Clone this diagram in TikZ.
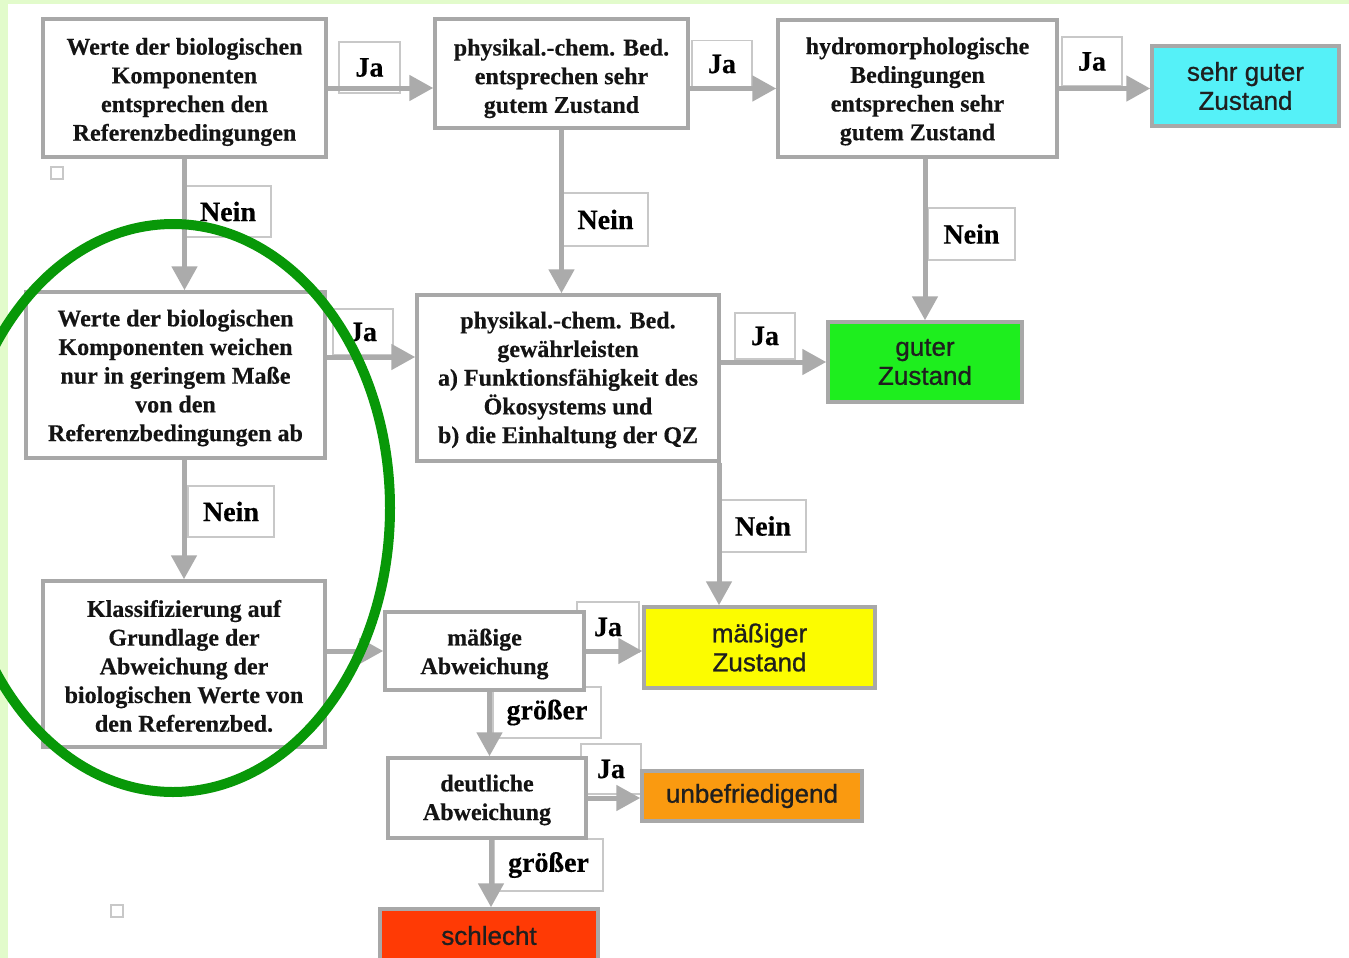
\documentclass[tikz,border=0pt]{standalone}
\usepackage{fontspec}
\setmainfont{Liberation Serif}[BoldFeatures={FakeBold=0.35}]
\newfontfamily\arialf{Liberation Sans}[FakeBold=0.9]
\usetikzlibrary{arrows.meta}
\definecolor{bgGreen}{HTML}{E2FBCB}
\definecolor{boxGray}{HTML}{A8A8A8}
\definecolor{lblGray}{HTML}{C8C8C8}
\definecolor{arrGray}{HTML}{ABABAB}
\definecolor{ringGreen}{RGB}{8,152,8}
\definecolor{cyanBox}{HTML}{55F1F8}
\definecolor{greenBox}{HTML}{1EEE1E}
\definecolor{yellowBox}{HTML}{FCFC00}
\definecolor{orangeBox}{HTML}{FA9A10}
\definecolor{redBox}{HTML}{FF3A05}
\begin{document}
\begin{tikzpicture}[x=1pt,y=-1pt,
  box/.style={draw=boxGray, line width=3.5pt, fill=white, inner sep=0pt},
  btxt/.style={inner sep=0pt, align=center,
    font=\fontsize{24}{28.7}\selectfont\bfseries, text=black!92},
  cbox/.style={draw=boxGray, line width=3.5pt, inner sep=0pt, align=center,
    font=\arialf\fontsize{26}{29}\selectfont, text=black!88},
  lbl/.style={draw=lblGray, line width=1.5pt, fill=white, inner sep=0pt,
    font=\fontsize{28}{30}\selectfont\bfseries, text=black},
  arr/.style={draw=arrGray, line width=5pt, -{Triangle[length=24pt,width=25pt]}},
  sq/.style={draw=lblGray, line width=1.5pt, minimum size=12pt, inner sep=0pt}
]
\useasboundingbox (0,0) rectangle (1349,958);
\clip (0,0) rectangle (1349,958);
\fill[bgGreen] (0,0) rectangle (1349,958);
\fill[white] (8,4) rectangle (1349,958);

% labels
\node[lbl, minimum width=61pt, minimum height=51pt] (l1) at (369.5,67.5) {Ja};
\node[lbl, minimum width=60pt, minimum height=47pt] (l2) at (722,64) {Ja};
\node[lbl, minimum width=60pt, minimum height=49pt] (l3) at (1092,61.5) {Ja};
\node[lbl, minimum width=86pt, minimum height=51pt] (l4) at (228,211.5) {Nein};
\node[lbl, minimum width=85pt, minimum height=53pt] (l5) at (605.5,219.5) {Nein};
\node[lbl, minimum width=87pt, minimum height=52pt] (l6) at (971.5,234) {Nein};
\node[lbl, minimum width=60pt, minimum height=46pt] (l7) at (363,332) {Ja};
\node[lbl, minimum width=60pt, minimum height=46pt] (l8) at (765,336) {Ja};
\node[lbl, minimum width=86pt, minimum height=52pt] (l9) at (763,526) {Nein};
\node[lbl, minimum width=86pt, minimum height=51pt] (l10) at (231,511.5) {Nein};
\node[lbl, minimum width=62pt, minimum height=50pt] (l11) at (608,627) {Ja};
\node[lbl, minimum width=108pt, minimum height=51pt] (l12) at (547,712.5) {größer};
\node[lbl, minimum width=60pt, minimum height=50pt] (l13) at (611,769) {Ja};
\node[lbl, minimum width=109pt, minimum height=52pt] (l14) at (548.5,865) {größer};

% boxes
\node[box, minimum width=283pt, minimum height=138pt] (A) at (184.5,88) {};
\node[btxt] (At) at ([yshift=-4pt]A.center)
  {Werte der biologischen\\Komponenten\\entsprechen den\\Referenzbedingungen};
\node[box, minimum width=253pt, minimum height=109pt] (B) at (561.5,73.5) {};
\node[btxt] (Bt) at ([yshift=-5pt]B.center)
  {physikal.-chem. Bed.\\entsprechen sehr\\gutem Zustand};
\node[box, minimum width=279pt, minimum height=137pt] (C) at (917.5,88.5) {};
\node[btxt] (Ct) at ([yshift=-3pt]C.center)
  {hydromorphologische\\Bedingungen\\entsprechen sehr\\gutem Zustand};
\node[cbox, fill=cyanBox, minimum width=187pt, minimum height=80pt] (cy) at (1245.5,86)
  {sehr guter\\Zustand};
\node[box, minimum width=299pt, minimum height=166pt] (D) at (175.5,375) {};
\node[btxt] (Dt) at ([yshift=-3pt]D.center)
  {Werte der biologischen\\Komponenten weichen\\nur in geringem Maße\\von den\\Referenzbedingungen ab};
\node[box, minimum width=302pt, minimum height=166pt] (E) at (568,378) {};
\node[btxt] (Et) at ([yshift=-2pt]E.center)
  {physikal.-chem. Bed.\\gewährleisten\\a) Funktionsfähigkeit des\\Ökosystems und\\b) die Einhaltung der QZ};
\node[cbox, fill=greenBox, minimum width=194pt, minimum height=80pt] (gz) at (925,362)
  {guter\\Zustand};
\node[cbox, fill=yellowBox, minimum width=231pt, minimum height=81pt] (mz) at (759.5,647.5)
  {mäßiger\\Zustand};
\node[box, minimum width=282pt, minimum height=166pt] (F) at (184,664) {};
\node[btxt] (Ft) at ([yshift=-2pt]F.center)
  {Klassifizierung auf\\Grundlage der\\Abweichung der\\biologischen Werte von\\den Referenzbed.};
\node[box, minimum width=199pt, minimum height=78pt] (G) at (484.5,651) {};
\node[btxt] (Gt) at ([yshift=-3pt]G.center) {mäßige\\Abweichung};
\node[box, minimum width=198pt, minimum height=80pt] (H) at (487,798) {};
\node[btxt] (Ht) at ([yshift=-2pt]H.center) {deutliche\\Abweichung};
\node[cbox, fill=orangeBox, minimum width=220pt, minimum height=50pt] (ub) at (752,796)
  {unbefriedigend};
\node[cbox, fill=redBox, minimum width=218pt, minimum height=53pt] (sl) at (489,935.5)
  {schlecht};

\node[sq] (s1) at (57,173) {};
\node[sq] (s2) at (117,911) {};

% arrows
\draw[arr] (A.east) -- (A.east -| B.west);
\draw[arr] (C.west -| B.east) -- (C.west);
\draw[arr] (C.east) -- (C.east -| cy.west);
\draw[arr] (A.south) -- (A.south |- D.north);
\draw[arr] (B.south) -- (B.south |- E.north);
\draw[arr] (gz.north |- C.south) -- (gz.north);
\coordinate (d1) at ([yshift=18pt]D.east);
\draw[arr] (d1) -- (d1 -| E.west);
\draw[arr] (gz.west -| E.east) -- (gz.west);
\coordinate (e1) at ([xshift=-1.75pt]E.south east);
\draw[arr] (e1) -- (e1 |- mz.north);
\draw[arr] (F.north |- D.south) -- (F.north);
\draw[arr] (G.west -| F.east) -- (G.west);
\draw[arr] (G.east) -- (G.east -| mz.west);
\coordinate (g1) at ([xshift=5pt]G.south);
\draw[arr] (g1) -- (g1 |- H.north);
\coordinate (h1) at ([xshift=4pt]H.south);
\draw[arr] (h1) -- (h1 |- sl.north);
\draw[arr] (H.east) -- (H.east -| ub.west);

% highlight ring
\draw[ringGreen, line width=10pt] (173,508) ellipse [x radius=217pt, y radius=284pt];
\end{tikzpicture}
\end{document}
